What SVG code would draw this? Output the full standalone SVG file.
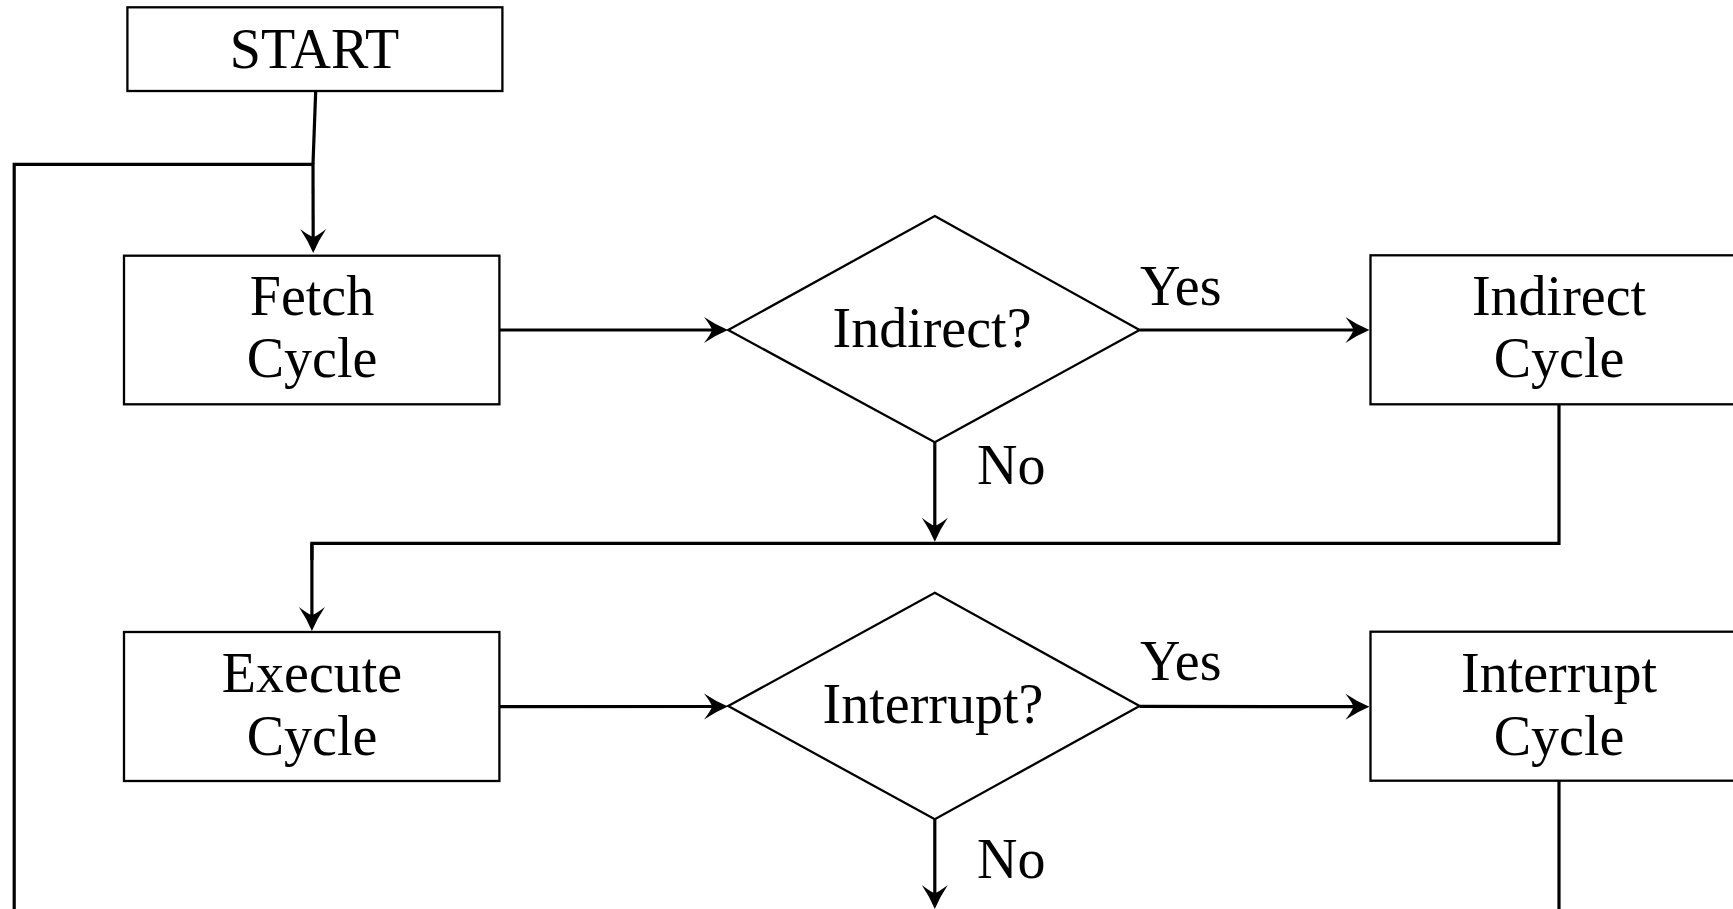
<svg xmlns="http://www.w3.org/2000/svg" width="1733" height="909" viewBox="0 0 1733 909">
<style>
.box{fill:#fff;stroke:#000;stroke-width:2.3}
.dia{fill:#fff;stroke:#000;stroke-width:2.3;stroke-linejoin:miter}
.t{font-family:"Liberation Serif","Times New Roman",serif;font-size:56px;fill:#000;text-anchor:middle}
.lbl{font-family:"Liberation Serif","Times New Roman",serif;font-size:56px;fill:#000}
.c{fill:none;stroke:#000;stroke-width:3.2}
.a{marker-end:url(#arr)}
</style>
<defs>
<marker id="arr" markerUnits="userSpaceOnUse" viewBox="-30 -16 34 32" markerWidth="34" markerHeight="32" refX="-10" refY="0" orient="auto" overflow="visible">
<path d="M0,0 Q-12,-5 -24,-13 Q-17,-4 -16,0 Q-17,4 -24,13 Q-12,5 0,0 Z" fill="#000"/>
</marker>
</defs>
<rect width="1733" height="909" fill="#fff"/>
<g id="connectors">
<path class="c" d="M315.7,91 L313,164"/>
<path class="c a" d="M313,163 L313.2,243"/>
<path class="c" d="M313,164.3 L14.2,164.3 L14.2,912"/>
<path class="c a" d="M499.4,330 L718,330"/>
<path class="c a" d="M1139.6,330 L1359.4,330"/>
<path class="c a" d="M934.8,442.3 L934.8,531.7"/>
<path class="c" d="M1559,404.3 L1559,543.3 L311.9,543.3 L311.9,560"/>
<path class="c a" d="M311.9,543.3 L311.9,621"/>
<path class="c a" d="M499.4,706.7 L718,706.5"/>
<path class="c a" d="M1139.6,706.3 L1359.4,706.7"/>
<path class="c a" d="M934.8,819.3 L934.8,899"/>
<path class="c" d="M1559,780.7 L1559,912"/>
<text class="lbl" x="1140" y="305">Yes</text>
<text class="lbl" x="977" y="484">No</text>
<text class="lbl" x="1140" y="680">Yes</text>
<text class="lbl" x="977" y="878">No</text>
</g>
<g id="start">
<rect class="box" x="127.4" y="7.3" width="375" height="83.7"/>
<text class="t" x="314.5" y="67.7">START</text>
</g>
<g id="fetch">
<rect class="box" x="124" y="255.7" width="375.4" height="148.6"/>
<text class="t" x="312" y="315">Fetch</text>
<text class="t" x="312" y="377">Cycle</text>
</g>
<g id="indirect-q">
<polygon class="dia" points="934.8,216 1139.6,330 934.8,442.3 728.2,330"/>
<text class="t" x="932" y="346.7">Indirect?</text>
</g>
<g id="indirect-cycle">
<rect class="box" x="1370.5" y="255.3" width="377" height="149"/>
<text class="t" x="1559" y="315">Indirect</text>
<text class="t" x="1559" y="377">Cycle</text>
</g>
<g id="execute">
<rect class="box" x="124" y="632" width="375.4" height="149"/>
<text class="t" x="312" y="691.7">Execute</text>
<text class="t" x="312" y="755">Cycle</text>
</g>
<g id="interrupt-q">
<polygon class="dia" points="934.8,592.7 1139.6,706 934.8,819.3 728.2,706"/>
<text class="t" x="933" y="723.3">Interrupt?</text>
</g>
<g id="interrupt-cycle">
<rect class="box" x="1370.5" y="631.7" width="377" height="149"/>
<text class="t" x="1559" y="691.7">Interrupt</text>
<text class="t" x="1559" y="755">Cycle</text>
</g>
</svg>
